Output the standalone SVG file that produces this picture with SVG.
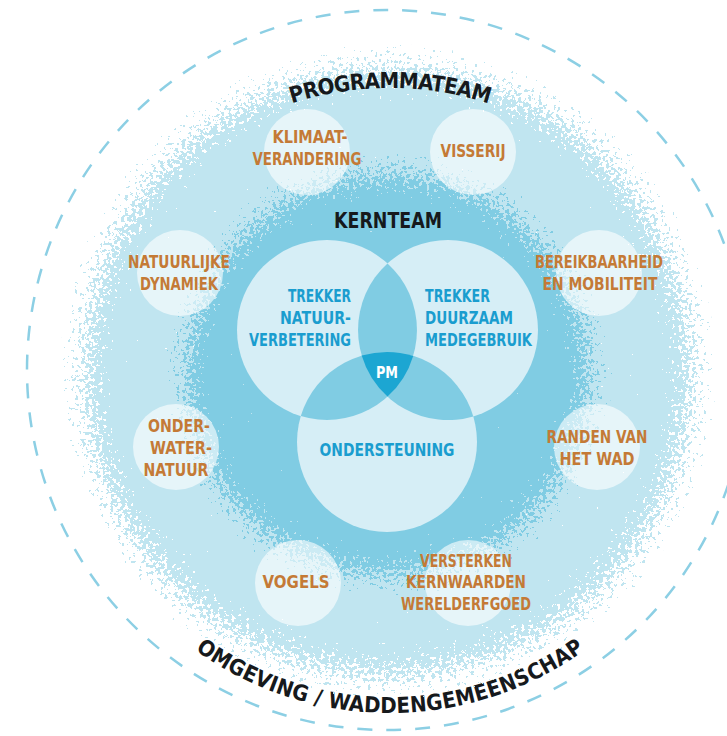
<svg xmlns="http://www.w3.org/2000/svg" width="727" height="736" viewBox="0 0 727 736">
<defs>
<style>
.t{font-family:"Liberation Sans Narrow","DejaVu Sans Condensed","Liberation Sans",sans-serif;font-weight:bold;text-anchor:middle}
.o{fill:#c47a36;font-size:17px}
.b{fill:#1a9dcf;font-size:17px}
.k{fill:#16191c}
.pc{fill:#ffffff;fill-opacity:0.6}
.vc{fill:#d6eef6}
.lens{fill:#80cce3}
</style>
<radialGradient id="gLight" cx="388" cy="372" r="335" gradientUnits="userSpaceOnUse">
<stop offset="0.80" stop-color="#000" stop-opacity="1"/>
<stop offset="1" stop-color="#000" stop-opacity="0"/>
</radialGradient>
<radialGradient id="gDark" cx="388" cy="374" r="228" gradientUnits="userSpaceOnUse">
<stop offset="0.75" stop-color="#000" stop-opacity="1"/>
<stop offset="1" stop-color="#000" stop-opacity="0"/>
</radialGradient>
<clipPath id="clipLight"><circle cx="388" cy="372" r="328"/></clipPath>
<clipPath id="clipDark"><circle cx="388" cy="374" r="224"/></clipPath>
<filter id="sprayLight" filterUnits="userSpaceOnUse" x="0" y="0" width="727" height="736" color-interpolation-filters="sRGB">
<feTurbulence type="fractalNoise" baseFrequency="0.28" numOctaves="3" seed="4" result="n"/>
<feColorMatrix in="n" type="matrix" values="0 0 0 0 0  0 0 0 0 0  0 0 0 0 0  0 0 0 1 0" result="na"/>
<feComposite in="SourceAlpha" in2="na" operator="arithmetic" k1="0" k2="1" k3="1.4" k4="-0.7" result="sum"/>
<feComponentTransfer in="sum" result="th"><feFuncA type="discrete" tableValues="0 1"/></feComponentTransfer>
<feFlood flood-color="#c0e5f0"/>
<feComposite in2="th" operator="in"/>
</filter>
<filter id="sprayDark" filterUnits="userSpaceOnUse" x="0" y="0" width="727" height="736" color-interpolation-filters="sRGB">
<feTurbulence type="fractalNoise" baseFrequency="0.3" numOctaves="3" seed="9" result="n"/>
<feColorMatrix in="n" type="matrix" values="0 0 0 0 0  0 0 0 0 0  0 0 0 0 0  0 0 0 1 0" result="na"/>
<feComposite in="SourceAlpha" in2="na" operator="arithmetic" k1="0" k2="1" k3="1.4" k4="-0.7" result="sum"/>
<feComponentTransfer in="sum" result="th"><feFuncA type="discrete" tableValues="0 1"/></feComponentTransfer>
<feFlood flood-color="#80cce3"/>
<feComposite in2="th" operator="in"/>
</filter>
<path id="arcTop" d="M 70,408 A 320 320 0 0 1 710,408"/>
<path id="arcBottom" d="M 57,380 A 333 333 0 0 0 723,380"/>
</defs>

<rect x="0" y="0" width="727" height="736" fill="#ffffff"/>

<g id="omgeving">
<circle cx="387" cy="370" r="360" fill="none" stroke="#8ccfe4" stroke-width="2.5" stroke-dasharray="15 14"/>
<text class="t k" font-size="22" letter-spacing="0.2"><textPath href="#arcBottom" startOffset="50%">OMGEVING / WADDENGEMEENSCHAP</textPath></text>
</g>

<g id="programmateam">
<g clip-path="url(#clipLight)"><circle cx="388" cy="372" r="335" fill="url(#gLight)" filter="url(#sprayLight)"/></g>
<text class="t k" font-size="22" letter-spacing="-0.7"><textPath href="#arcTop" startOffset="50%">PROGRAMMATEAM</textPath></text>
</g>

<g id="kernteam">
<g clip-path="url(#clipDark)"><circle cx="388" cy="374" r="228" fill="url(#gDark)" filter="url(#sprayDark)"/></g>
<text class="t k" x="388" y="228" font-size="21" textLength="108" lengthAdjust="spacingAndGlyphs">KERNTEAM</text>
</g>

<g id="n-klimaat">
<circle class="pc" cx="307" cy="152" r="43"/>
<text class="t o" x="310" y="143" textLength="75" lengthAdjust="spacingAndGlyphs">KLIMAAT-</text>
<text class="t o" x="307" y="165" textLength="109" lengthAdjust="spacingAndGlyphs">VERANDERING</text>
</g>
<g id="n-visserij">
<circle class="pc" cx="473" cy="152" r="43"/>
<text class="t o" x="473" y="157" textLength="65" lengthAdjust="spacingAndGlyphs">VISSERIJ</text>
</g>
<g id="n-natuurlijke">
<circle class="pc" cx="180" cy="273" r="43"/>
<text class="t o" x="179" y="268" textLength="102" lengthAdjust="spacingAndGlyphs">NATUURLIJKE</text>
<text class="t o" x="179" y="290" textLength="78" lengthAdjust="spacingAndGlyphs">DYNAMIEK</text>
</g>
<g id="n-bereikbaarheid">
<circle class="pc" cx="599" cy="273" r="43"/>
<text class="t o" x="599" y="268" textLength="128" lengthAdjust="spacingAndGlyphs">BEREIKBAARHEID</text>
<text class="t o" x="600" y="290" textLength="115" lengthAdjust="spacingAndGlyphs">EN MOBILITEIT</text>
</g>
<g id="n-onderwater">
<circle class="pc" cx="176" cy="447" r="43"/>
<text class="t o" x="179" y="432" textLength="62" lengthAdjust="spacingAndGlyphs">ONDER-</text>
<text class="t o" x="181" y="454" textLength="62" lengthAdjust="spacingAndGlyphs">WATER-</text>
<text class="t o" x="176" y="476" textLength="65" lengthAdjust="spacingAndGlyphs">NATUUR</text>
</g>
<g id="n-randen">
<circle class="pc" cx="597" cy="447" r="43"/>
<text class="t o" x="597" y="443" textLength="101" lengthAdjust="spacingAndGlyphs">RANDEN VAN</text>
<text class="t o" x="597" y="465" textLength="75" lengthAdjust="spacingAndGlyphs">HET WAD</text>
</g>
<g id="n-vogels">
<circle class="pc" cx="298" cy="583" r="43"/>
<text class="t o" x="296" y="588" textLength="67" lengthAdjust="spacingAndGlyphs">VOGELS</text>
</g>
<g id="n-versterken">
<circle class="pc" cx="468" cy="583" r="43"/>
<text class="t o" x="466" y="567" textLength="92" lengthAdjust="spacingAndGlyphs">VERSTERKEN</text>
<text class="t o" x="466" y="588" textLength="120" lengthAdjust="spacingAndGlyphs">KERNWAARDEN</text>
<text class="t o" x="466" y="610" textLength="130" lengthAdjust="spacingAndGlyphs">WERELDERFGOED</text>
</g>

<g id="venn">
<g id="v-natuur">
<circle class="vc" cx="327" cy="330" r="90"/>
</g>
<g id="v-medegebruik">
<circle class="vc" cx="448" cy="330" r="90"/>
</g>
<g id="v-ondersteuning">
<circle class="vc" cx="387" cy="442" r="90"/>
</g>
<path class="lens" d="M 387.5,263.4 A 90 90 0 0 1 387.5,396.6 A 90 90 0 0 1 387.5,263.4 Z"/>
<path class="lens" d="M 413.2,355.9 A 90 90 0 0 1 300.8,416.1 A 90 90 0 0 1 413.2,355.9 Z"/>
<path class="lens" d="M 473.3,416.4 A 90 90 0 0 1 361.7,355.6 A 90 90 0 0 1 473.3,416.4 Z"/>
<g id="v-pm">
<path fill="#1ca6d2" d="M 361.7,355.6 A 90 90 0 0 1 413.2,355.9 A 90 90 0 0 1 387.5,396.6 A 90 90 0 0 1 361.7,355.6 Z"/>
<text class="t" x="387" y="378" font-size="16" fill="#ffffff" textLength="22" lengthAdjust="spacingAndGlyphs">PM</text>
</g>
<g class="t b">
<text x="351" y="302" text-anchor="end" textLength="63" lengthAdjust="spacingAndGlyphs">TREKKER</text>
<text x="351" y="324" text-anchor="end" textLength="71" lengthAdjust="spacingAndGlyphs">NATUUR-</text>
<text x="351" y="346" text-anchor="end" textLength="102" lengthAdjust="spacingAndGlyphs">VERBETERING</text>
<text x="425" y="302" text-anchor="start" textLength="65" lengthAdjust="spacingAndGlyphs">TREKKER</text>
<text x="425" y="324" text-anchor="start" textLength="88" lengthAdjust="spacingAndGlyphs">DUURZAAM</text>
<text x="425" y="346" text-anchor="start" textLength="107" lengthAdjust="spacingAndGlyphs">MEDEGEBRUIK</text>
<text x="387" y="456" text-anchor="middle" textLength="135" lengthAdjust="spacingAndGlyphs">ONDERSTEUNING</text>
</g>
</g>
</svg>
